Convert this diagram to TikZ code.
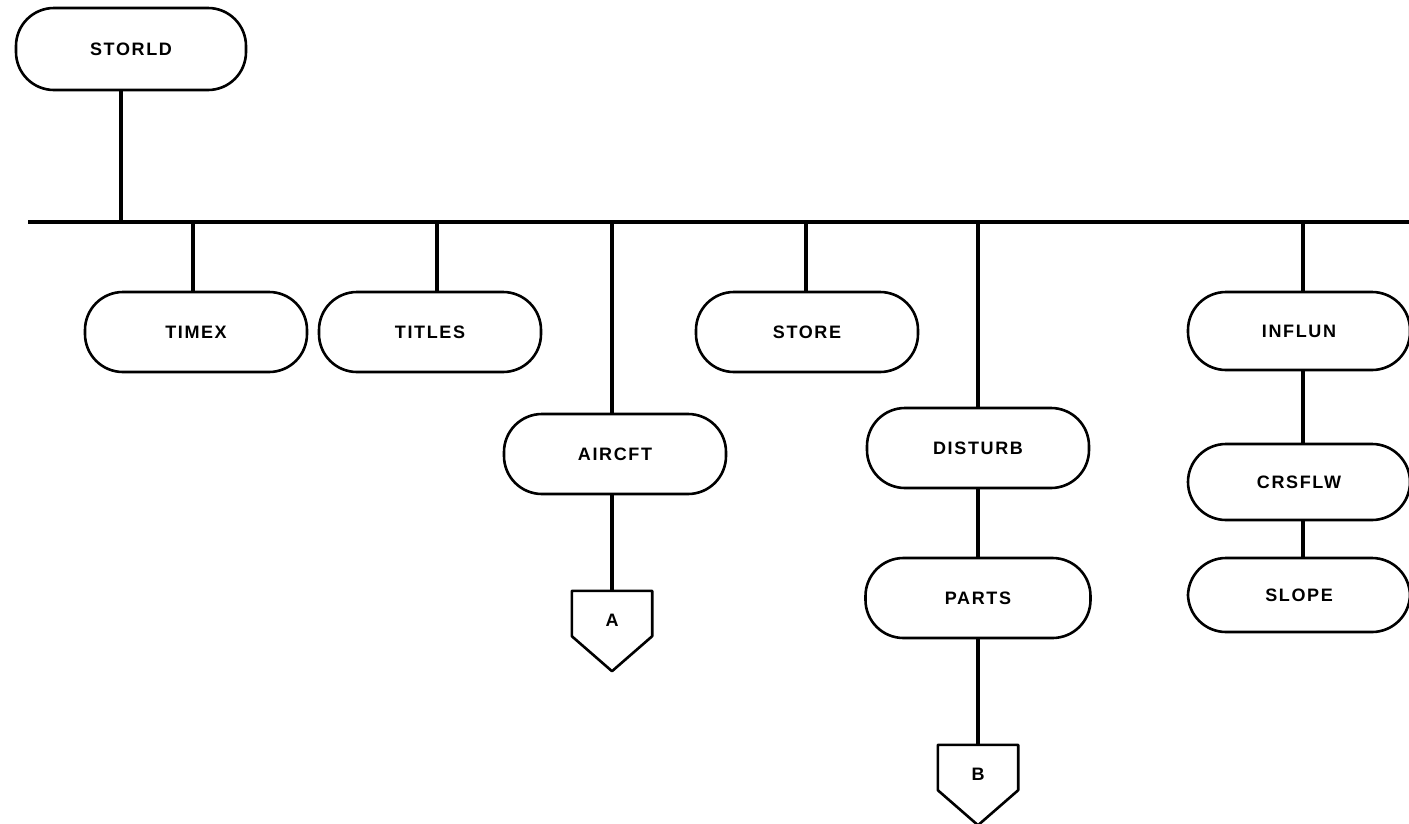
\documentclass[tikz,border=0pt]{standalone}
\usepackage{fontspec}
\setmainfont{Liberation Sans}[LetterSpace=9]
\begin{document}
\begin{tikzpicture}[x=1pt,y=1pt,
  routine/.style={draw, line width=2.6pt, rounded corners=38pt,
    minimum width=222pt, minimum height=80pt, inner sep=0pt,
    font=\fontsize{18}{18}\selectfont\bfseries},
  offpage/.style={minimum width=80pt, minimum height=45pt, inner sep=0pt,
    text height=26pt, text depth=0pt,
    font=\fontsize{18}{18}\selectfont\bfseries},
  outline/.style={line width=2.6pt, line join=round},
  link/.style={line width=4.8pt}]
\clip (0,0) rectangle (1409,-823);

% routines
\node[routine, minimum width=230pt, minimum height=82pt] (storld) at (131,-49) {STORLD};
\node[routine] (timex)   at (196,-332) {TIMEX};
\node[routine] (titles)  at (430,-332) {TITLES};
\node[routine] (aircft)  at (615,-454) {AIRCFT};
\node[routine] (store)   at (807,-332) {STORE};
\node[routine] (disturb) at (978,-448) {DISTURB};
\node[routine, minimum width=225pt] (parts) at (978,-598) {PARTS};
\node[routine, minimum height=78pt] (influn) at (1299,-331) {INFLUN};
\node[routine, minimum height=76pt] (crsflw) at (1299,-482) {CRSFLW};
\node[routine, minimum height=74pt] (slope)  at (1299,-595) {SLOPE};

% off-page connectors
\node[offpage] (A) at (612,-613.5) {A};
\node[offpage] (B) at (978,-767.5) {B};
\foreach \c in {A,B}
  \draw[outline] (\c.north west) -- (\c.north east) -- (\c.south east)
    -- ([yshift=-35pt]\c.south) -- (\c.south west) -- cycle;

% main bus and its taps
\coordinate (busL) at (28,-222);
\coordinate (busR) at (1415,-222);
\coordinate (t1) at (121,-222);
\coordinate (t2) at (193,-222);
\coordinate (t3) at (437,-222);
\coordinate (t4) at (612,-222);
\coordinate (t5) at (806,-222);
\coordinate (t6) at (978,-222);
\coordinate (t7) at (1303,-222);
\draw[link] (busL) -- (busR);

\draw[link] (storld.south -| t1) -- (t1);
\draw[link] (t2) -- (timex.north -| t2);
\draw[link] (t3) -- (titles.north -| t3);
\draw[link] (t4) -- (aircft.north -| t4);
\draw[link] (t5) -- (store.north -| t5);
\draw[link] (t6) -- (disturb.north -| t6);
\draw[link] (t7) -- (influn.north -| t7);

% chains below
\draw[link] (aircft.south -| A) -- (A.north);
\draw[link] (disturb.south) -- (parts.north);
\draw[link] (parts.south) -- (B.north);
\draw[link] (influn.south -| t7) -- (crsflw.north -| t7);
\draw[link] (crsflw.south -| t7) -- (slope.north -| t7);
\end{tikzpicture}
\end{document}
